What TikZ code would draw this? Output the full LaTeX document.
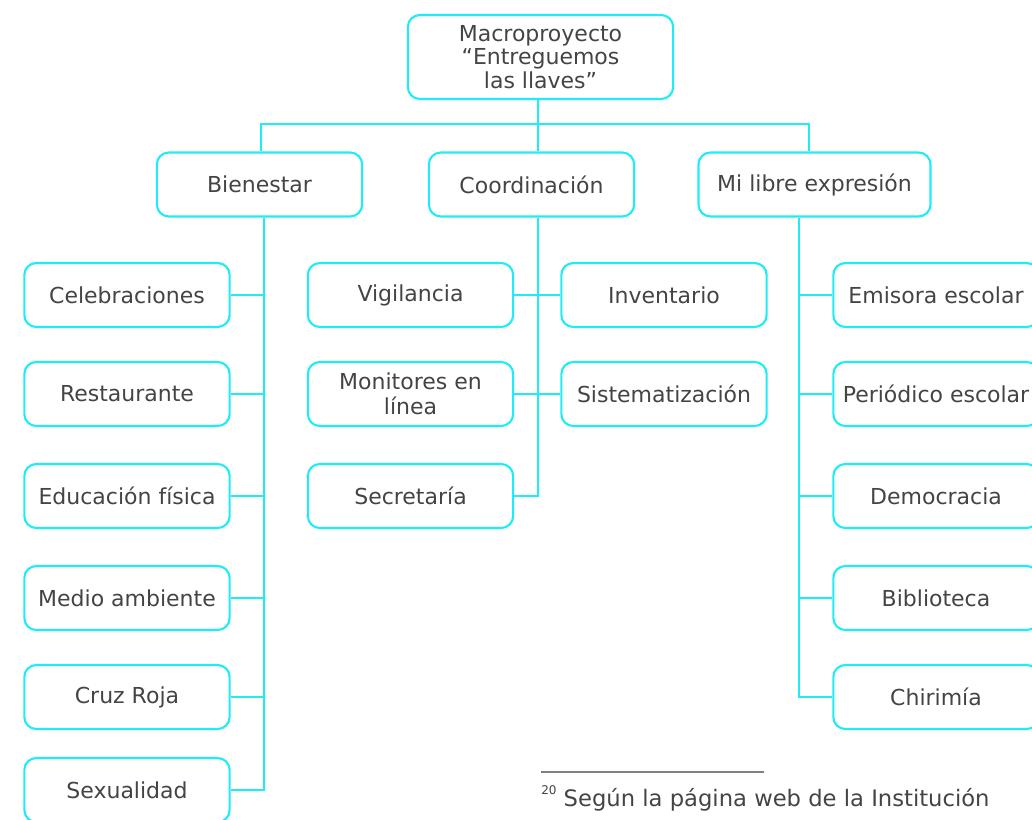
\documentclass[tikz,border=0pt]{standalone}
\usepackage{fontspec}
\setmainfont{DejaVu Sans}
\definecolor{lin}{RGB}{30,236,246}
\definecolor{txt}{RGB}{68,68,68}
\begin{document}
\begin{tikzpicture}[x=0.75pt,y=-0.75pt,
  box/.style={draw=lin,line width=1.6pt,rounded corners=9pt,minimum width=154pt,minimum height=48pt,inner sep=2pt,align=center,text=txt,font=\fontsize{16.5}{19}\selectfont},
  con/.style={draw=lin,line width=1.5pt}]
\useasboundingbox (0,0) rectangle (1032,819);
\clip (0,0) rectangle (1032,819);
% root
\node[box,minimum width=199pt,minimum height=63pt,font=\fontsize{16.5}{17.5}\selectfont] (root) at (540.5,57) {Macroproyecto\\ ``Entreguemos\\ las llaves''};
% level 1
\node[box] (bien) at (259.5,184.5) {Bienestar};
\node[box] (coor) at (531.5,184.5) {Coordinación};
\node[box,minimum width=174pt] (mle) at (814.5,184.5) {Mi libre expresión};
% Bienestar children
\node[box] (cel) at (127,295) {Celebraciones};
\node[box] (res) at (127,394) {Restaurante};
\node[box] (edu) at (127,496) {Educación física};
\node[box] (med) at (127,598) {Medio ambiente};
\node[box] (cru) at (127,697) {Cruz Roja};
\node[box] (sex) at (127,790) {Sexualidad};
% Coordinacion children
\node[box] (vig) at (410.5,295) {Vigilancia};
\node[box] (mon) at (410.5,394) {Monitores en\\ línea};
\node[box] (sec) at (410.5,496) {Secretaría};
\node[box] (inv) at (664,295) {Inventario};
\node[box] (sis) at (664,394) {Sistematización};
% Mi libre children
\node[box] (emi) at (936,295) {Emisora escolar};
\node[box] (per) at (936,394) {Periódico escolar};
\node[box] (dem) at (936,496) {Democracia};
\node[box] (bib) at (936,598) {Biblioteca};
\node[box] (chi) at (936,697) {Chirimía};
% bus coordinates
\coordinate (busm) at (538,124);
\coordinate (busl) at (261,124);
\coordinate (busr) at (809,124);
\coordinate (bx) at (264,0);
\coordinate (cx) at (538,0);
\coordinate (mx) at (799,0);
\draw[con] (root.south -| busm) -- (busm);
\draw[con] (bien.north -| busl) -- (busl) -- (busr) -- (mle.north -| busr);
\draw[con] (busm) -- (coor.north -| busm);
% Bienestar spine
\draw[con] (bien.south -| bx) -- (sex.east -| bx) -- (sex.east);
\foreach \n in {cel,res,edu,med,cru} \draw[con] (\n.east) -- (\n.east -| bx);
% Coordinacion spine
\draw[con] (coor.south -| cx) -- (sec.east -| cx) -- (sec.east);
\draw[con] (vig.east) -- (inv.west);
\draw[con] (mon.east) -- (sis.west);
% Mi libre spine
\draw[con] (mle.south -| mx) -- (chi.west -| mx) -- (chi.west);
\foreach \n in {emi,per,dem,bib} \draw[con] (\n.west -| mx) -- (\n.west);
% footnote
\coordinate (fl) at (541,772);
\coordinate (fr) at (764,772);
\draw[line width=0.8pt,draw=gray] (fl) -- (fr);
\node[anchor=base west,inner sep=0pt,text=txt,font=\fontsize{17}{20}\selectfont] (fn) at (541,806) {\raisebox{0.5em}{\fontsize{9}{10}\selectfont 20} Según la página web de la Institución};
\end{tikzpicture}
\end{document}
